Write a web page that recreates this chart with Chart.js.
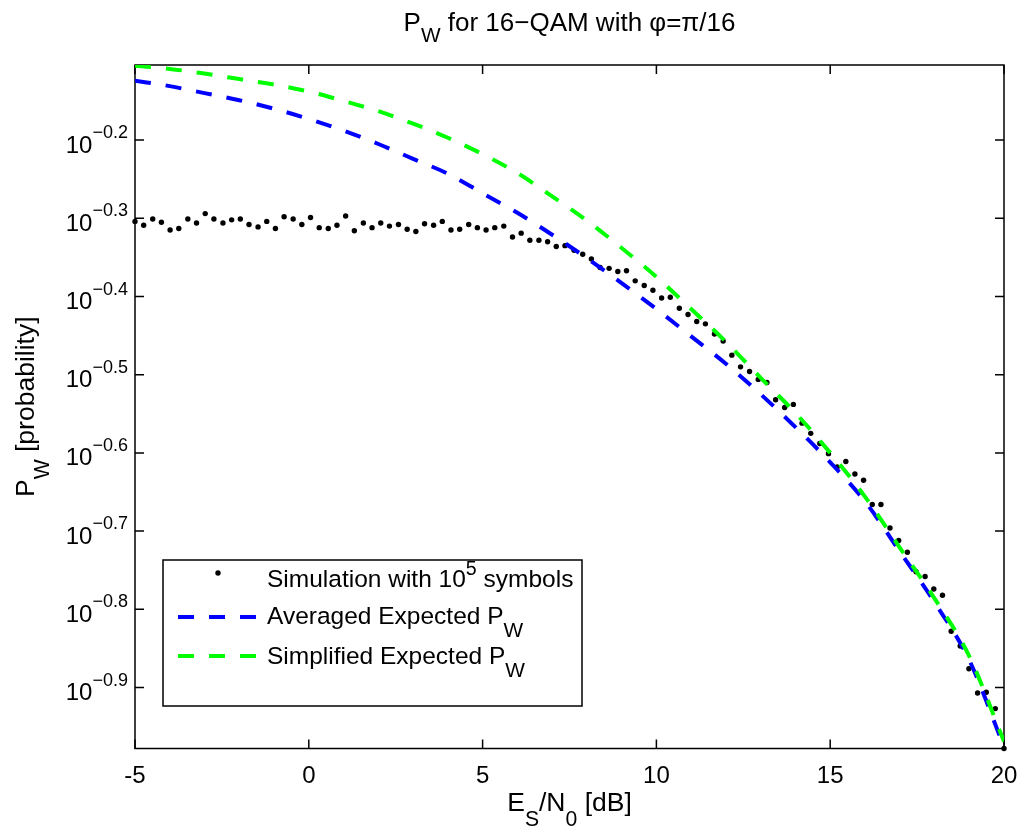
<!DOCTYPE html>
<html>
<head>
<meta charset="utf-8">
<script src="https://cdn.jsdelivr.net/npm/chart.js@4.4.1/dist/chart.umd.min.js"></script>
<style>
  html, body { margin: 0; background: #fff; }
  canvas { display: block; }
</style>
</head>
<body>
<canvas id="pwChart" width="1023" height="831"></canvas>
<script>
// Es/N0 grid of the simulation (dB), 100 points from -5 to 20
const simX = [
  -5.00, -4.75, -4.49, -4.24, -3.99, -3.74, -3.48, -3.23, -2.98, -2.73,
  -2.47, -2.22, -1.97, -1.72, -1.46, -1.21, -0.96, -0.71, -0.45, -0.20,
  0.05, 0.30, 0.56, 0.81, 1.06, 1.31, 1.57, 1.82, 2.07, 2.32,
  2.58, 2.83, 3.08, 3.33, 3.59, 3.84, 4.09, 4.34, 4.60, 4.85,
  5.10, 5.35, 5.61, 5.86, 6.11, 6.36, 6.62, 6.87, 7.12, 7.37,
  7.63, 7.88, 8.13, 8.38, 8.64, 8.89, 9.14, 9.39, 9.65, 9.90,
  10.15, 10.40, 10.66, 10.91, 11.16, 11.41, 11.67, 11.92, 12.17, 12.42,
  12.68, 12.93, 13.18, 13.43, 13.69, 13.94, 14.19, 14.44, 14.70, 14.95,
  15.20, 15.45, 15.71, 15.96, 16.21, 16.46, 16.72, 16.97, 17.22, 17.47,
  17.73, 17.98, 18.23, 18.48, 18.74, 18.99, 19.24, 19.49, 19.75, 20.00
];
// simulated P_W, given as log10 exponent
const simExp = [
  -0.304, -0.309, -0.301, -0.305, -0.315, -0.313, -0.301, -0.306, -0.294, -0.301,
  -0.306, -0.302, -0.301, -0.308, -0.311, -0.304, -0.313, -0.298, -0.301, -0.308,
  -0.299, -0.312, -0.313, -0.309, -0.297, -0.316, -0.306, -0.312, -0.306, -0.310,
  -0.308, -0.314, -0.317, -0.307, -0.309, -0.304, -0.315, -0.314, -0.308, -0.312,
  -0.315, -0.312, -0.310, -0.324, -0.319, -0.328, -0.328, -0.330, -0.336, -0.335,
  -0.341, -0.346, -0.352, -0.363, -0.364, -0.368, -0.367, -0.380, -0.386, -0.392,
  -0.402, -0.401, -0.415, -0.423, -0.432, -0.435, -0.448, -0.457, -0.475, -0.490,
  -0.496, -0.506, -0.510, -0.532, -0.542, -0.538, -0.562, -0.575, -0.588, -0.601,
  -0.618, -0.611, -0.627, -0.635, -0.666, -0.666, -0.696, -0.712, -0.727, -0.752,
  -0.758, -0.774, -0.782, -0.828, -0.847, -0.876, -0.907, -0.906, -0.927, -0.978
];

// expected curves, read every 1 dB
const curveX = [-5, -4, -3, -2, -1, 0, 1, 2, 3, 4, 5, 6, 7, 8, 9, 10, 11, 12, 13, 14, 15, 16, 17, 18, 19, 20];
const averagedExp = [
  -0.124, -0.131, -0.140, -0.149, -0.160, -0.173, -0.188, -0.205, -0.224, -0.243,
  -0.268, -0.293, -0.321, -0.351, -0.383, -0.416, -0.451, -0.486, -0.525, -0.567,
  -0.612, -0.662, -0.726, -0.791, -0.865, -0.976
];
const simplifiedExp = [
  -0.105, -0.109, -0.115, -0.122, -0.129, -0.138, -0.150, -0.163, -0.179, -0.197,
  -0.218, -0.242, -0.272, -0.303, -0.338, -0.375, -0.416, -0.458, -0.504, -0.549,
  -0.600, -0.656, -0.721, -0.786, -0.860, -0.969
];

const xTicks = [-5, 0, 5, 10, 15, 20];
const yTickExp = [-0.2, -0.3, -0.4, -0.5, -0.6, -0.7, -0.8, -0.9];
const yMinExp = -0.978;
const yMaxExp = -0.104;

const FONT = '"Liberation Sans", Arial, Helvetica, sans-serif';

const toPoints = (xs, exps) => xs.map((x, i) => ({ x: x, y: Math.pow(10, exps[i]) }));

// draws text pieces with TeX-like sub/superscripts
const drawRich = (ctx, parts, x, y, size, align, scale, shift) => {
    const small = size * (scale || 0.8);
    const off = size * (shift || 0.6);
    let width = 0;
    parts.forEach(p => {
        ctx.font = `${p[1] ? small : size}px ${FONT}`;
        width += ctx.measureText(p[0]).width;
    });
    let cx = x;
    if (align === 'center') cx = x - width / 2;
    if (align === 'right') cx = x - width;
    ctx.textAlign = 'left';
    ctx.textBaseline = 'alphabetic';
    parts.forEach(p => {
        ctx.font = `${p[1] ? small : size}px ${FONT}`;
        let dy = 0;
        if (p[1] === 'sub') dy = off;
        if (p[1] === 'sup') dy = -off;
        ctx.fillText(p[0], cx, y + dy);
        cx += ctx.measureText(p[0]).width;
    });
};

const matlabAxes = {
    id: 'matlabAxes',
    beforeDatasetsDraw: (chart) => {
        const ctx = chart.ctx;
        const a = chart.chartArea;
        const xs = chart.scales.x;
        const ys = chart.scales.y;
        ctx.save();
        ctx.strokeStyle = '#000';
        ctx.lineWidth = 1.5;
        ctx.strokeRect(a.left, a.top, a.right - a.left, a.bottom - a.top);
        ctx.beginPath();
        xTicks.forEach(t => {
            const px = xs.getPixelForValue(t);
            ctx.moveTo(px, a.bottom); ctx.lineTo(px, a.bottom - 9);
            ctx.moveTo(px, a.top); ctx.lineTo(px, a.top + 9);
        });
        yTickExp.forEach(e => {
            const py = ys.getPixelForValue(Math.pow(10, e));
            ctx.moveTo(a.left, py); ctx.lineTo(a.left + 9, py);
            ctx.moveTo(a.right, py); ctx.lineTo(a.right - 9, py);
        });
        ctx.stroke();
        ctx.restore();
    },
    afterDraw: (chart) => {
        const ctx = chart.ctx;
        const a = chart.chartArea;
        const xs = chart.scales.x;
        const ys = chart.scales.y;
        ctx.save();
        ctx.fillStyle = '#000';

        // tick labels
        xTicks.forEach(t => {
            drawRich(ctx, [[String(t)]], xs.getPixelForValue(t), a.bottom + 34, 24, 'center');
        });
        yTickExp.forEach(e => {
            const py = ys.getPixelForValue(Math.pow(10, e));
            drawRich(ctx, [['10'], ['\u2212' + Math.abs(e).toFixed(1), 'sup']], a.left - 7, py + 12.5, 24, 'right', 0.75, 0.6);
        });

        // title and axis labels
        const midX = (a.left + a.right) / 2;
        drawRich(ctx, [['P'], ['W', 'sub'], [' for 16\u2212QAM with \u03c6=\u03c0/16']], midX, 31, 26, 'center', 0.8, 0.42);
        drawRich(ctx, [['E'], ['S', 'sub'], ['/N'], ['0', 'sub'], [' [dB]']], midX, 811, 26.5, 'center', 0.8, 0.55);
        ctx.save();
        ctx.translate(34, (a.top + a.bottom) / 2);
        ctx.rotate(-Math.PI / 2);
        drawRich(ctx, [['P'], ['W', 'sub'], [' [probability]']], 0, 0, 26.5, 'center', 0.8, 0.55);
        ctx.restore();

        // legend
        const lg = { left: 163, top: 560, right: 582, bottom: 706 };
        ctx.fillStyle = '#fff';
        ctx.fillRect(lg.left, lg.top, lg.right - lg.left, lg.bottom - lg.top);
        ctx.strokeStyle = '#000';
        ctx.lineWidth = 1.5;
        ctx.strokeRect(lg.left, lg.top, lg.right - lg.left, lg.bottom - lg.top);

        const sampleL = 178, sampleR = 258, textX = 267;
        ctx.fillStyle = '#000';
        ctx.beginPath();
        ctx.arc((sampleL + sampleR) / 2, 573, 2.7, 0, Math.PI * 2);
        ctx.fill();
        drawRich(ctx, [['Simulation with 10'], ['5', 'sup']], textX, 587, 24.5, 'left', 0.8, 0.5);
        ctx.font = `24.5px ${FONT}`;
        const simW = ctx.measureText('Simulation with 10').width;
        ctx.font = `${24.5 * 0.8}px ${FONT}`;
        const supW = ctx.measureText('5').width;
        drawRich(ctx, [[' symbols']], textX + simW + supW, 587, 24.5, 'left');

        const dashed = (color, y) => {
            ctx.save();
            ctx.strokeStyle = color;
            ctx.lineWidth = 4;
            ctx.setLineDash([16, 15]);
            ctx.beginPath();
            ctx.moveTo(sampleL, y);
            ctx.lineTo(sampleR, y);
            ctx.stroke();
            ctx.restore();
        };
        dashed('#0000ff', 617);
        ctx.fillStyle = '#000';
        drawRich(ctx, [['Averaged Expected P'], ['W', 'sub']], textX, 624, 24.5, 'left', 0.85, 0.55);
        dashed('#00ff00', 656);
        ctx.fillStyle = '#000';
        drawRich(ctx, [['Simplified Expected P'], ['W', 'sub']], textX, 664, 24.5, 'left', 0.85, 0.55);

        ctx.restore();
    }
};

new Chart(document.getElementById('pwChart').getContext('2d'), {
    type: 'line',
    data: {
        datasets: [
            {
                label: 'Simulation with 10^5 symbols',
                data: toPoints(simX, simExp),
                showLine: false,
                pointRadius: 2.7,
                pointBorderWidth: 0,
                pointBackgroundColor: '#000',
                order: 3,
                clip: false
            },
            {
                label: 'Averaged Expected P_W',
                data: toPoints(curveX, averagedExp),
                borderColor: '#0000ff',
                borderWidth: 4,
                borderDash: [16, 15],
                borderCapStyle: 'butt',
                pointRadius: 0,
                cubicInterpolationMode: 'monotone',
                order: 2
            },
            {
                label: 'Simplified Expected P_W',
                data: toPoints(curveX, simplifiedExp),
                borderColor: '#00ff00',
                borderWidth: 4,
                borderDash: [16, 15],
                borderCapStyle: 'butt',
                pointRadius: 0,
                cubicInterpolationMode: 'monotone',
                order: 1
            }
        ]
    },
    options: {
        responsive: false,
        animation: false,
        devicePixelRatio: 1,
        layout: { padding: { left: 135, top: 65, right: 19, bottom: 82.5 } },
        plugins: {
            legend: { display: false },
            title: { display: false },
            tooltip: { enabled: false }
        },
        scales: {
            x: {
                type: 'linear',
                min: -5,
                max: 20,
                display: false
            },
            y: {
                type: 'logarithmic',
                min: Math.pow(10, yMinExp),
                max: Math.pow(10, yMaxExp),
                display: false
            }
        }
    },
    plugins: [matlabAxes]
});
</script>
</body>
</html>
